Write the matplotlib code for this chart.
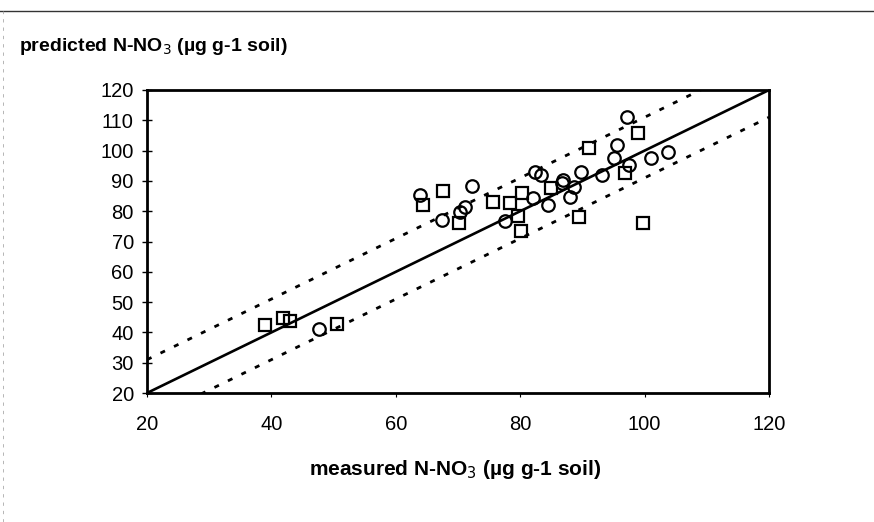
import matplotlib.pyplot as plt
import numpy as np
from matplotlib.lines import Line2D

plt.rcParams['font.family'] = ['Liberation Sans', 'DejaVu Sans']

# measured vs predicted, two data sets (circles / squares)
circ_x = [47.7, 63.9, 67.4, 70.3, 71.1, 72.2, 77.5, 82.4, 83.4, 84.5, 82.1, 86.7,
          88.0, 88.7, 86.9, 89.7, 93.1, 95.0, 95.5, 97.1, 97.5, 101.1, 103.8]
circ_y = [41.1, 85.5, 77.0, 79.8, 81.5, 88.4, 76.8, 92.8, 92.0, 82.0, 84.2, 89.2,
          84.8, 88.0, 90.3, 93.0, 91.9, 97.4, 101.8, 111.2, 95.2, 97.4, 99.6]

sq_x = [39.0, 41.9, 43.0, 50.5, 64.3, 67.6, 70.1, 75.6, 78.3, 79.7, 80.2, 80.3,
        85.0, 89.5, 91.0, 96.8, 99.0, 99.8]
sq_y = [42.6, 44.6, 43.8, 42.9, 82.0, 86.8, 76.0, 83.1, 82.6, 78.5, 73.6, 86.1,
        87.5, 78.2, 100.8, 92.5, 105.7, 76.2]

# 1:1 line and the band around it
line_x = [20, 120]
upper_off = 11
lower_off = -9

fig = plt.figure(figsize=(8.74, 5.22), dpi=100)
ax = fig.add_axes([0.1682, 0.2471, 0.7117, 0.5805])

lx = np.array(line_x, dtype=float)
ax.plot(lx, lx, color='black', lw=1.9, zorder=2)
ax.plot(lx, lx + upper_off, color='black', lw=2, linestyle=(0, (1.8, 3.6)), zorder=2)
ax.plot(lx, lx + lower_off, color='black', lw=2, linestyle=(0, (1.8, 3.6)), zorder=2)

ax.plot(circ_x, circ_y, 'o', ms=9, mfc='none', mec='black', mew=1.6, zorder=3)
ax.plot(sq_x, sq_y, 's', ms=9, mfc='none', mec='black', mew=1.6, zorder=3)

ax.set_xlim(20, 120)
ax.set_ylim(20, 120)
ax.set_xticks(range(20, 121, 20))
ax.set_yticks(range(20, 121, 10))
for s in ax.spines.values():
    s.set_linewidth(2)
ax.tick_params(axis='y', direction='inout', length=7, width=1, labelsize=14.5, pad=6)
ax.tick_params(axis='x', direction='out', length=3, width=0.8, labelsize=14.5, pad=13)

fig.text(0.022, 0.91, 'predicted N-NO$_3$ (µg g-1 soil)', fontsize=14,
         fontweight='bold', ha='left', va='center')
fig.text(0.521, 0.10, 'measured N-NO$_3$ (µg g-1 soil)', fontsize=15,
         fontweight='bold', ha='center', va='center')

# scan frame lines
fig.add_artist(Line2D([0, 1], [0.979, 0.979], color='#333333', lw=1,
                      transform=fig.transFigure))
fig.add_artist(Line2D([0.003, 0.003], [0.0, 0.979], color='#aaaaaa', lw=0.6,
                      linestyle=(0, (4, 6)), transform=fig.transFigure))

fig.savefig('out.png', dpi=100)
